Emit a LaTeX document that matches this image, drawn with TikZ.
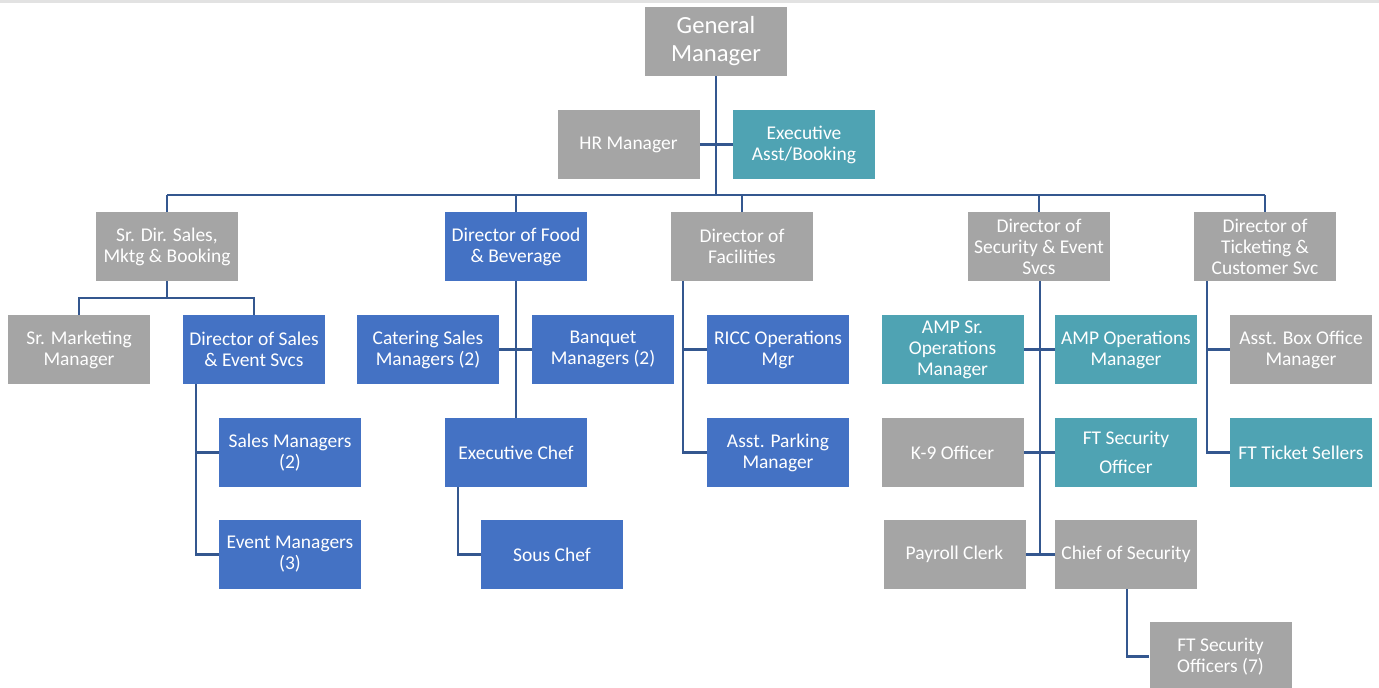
\documentclass[tikz,border=0pt]{standalone}
\usepackage{fontspec}
\setmainfont{Carlito}
\definecolor{boxgray}{HTML}{A5A5A5}
\definecolor{boxblue}{HTML}{4472C4}
\definecolor{boxteal}{HTML}{4FA3B3}
\definecolor{linkblue}{HTML}{34578F}
\definecolor{stripgray}{HTML}{E2E2E2}
\begin{document}
\begin{tikzpicture}[x=0.75pt,y=-0.75pt,
  orgbox/.style={minimum width=106.5pt,minimum height=51.75pt,inner sep=0pt,align=center,text=white,
    font=\fontsize{14.6pt}{15.75pt}\selectfont},
  gbox/.style={orgbox,fill=boxgray},
  bbox/.style={orgbox,fill=boxblue},
  tbox/.style={orgbox,fill=boxteal},
  link/.style={draw=linkblue,line width=2pt}]
\useasboundingbox (0,0) rectangle (1379,688);
\fill[stripgray] (0,0) rectangle (1379,3);
\begin{scope}
\clip (0,0) rectangle (1379,688);
% top
\node[gbox,font=\fontsize{18.5pt}{21pt}\selectfont] (gm) at (716,41.5) {General\\Manager};
\node[gbox] (hr) at (628.5,144.5) {HR Manager};
\node[tbox] (exec) at (804,144.5) {Executive\\Asst/Booking};
% level 2
\node[gbox] (srdir) at (167,246.5) {Sr. Dir. Sales,\\Mktg \& Booking};
\node[bbox] (fb) at (516,246.5) {Director of Food\\\& Beverage};
\node[gbox] (fac) at (742,246.5) {Director of\\Facilities};
\node[gbox] (sec) at (1039,246.5) {Director of\\Security \& Event\\Svcs};
\node[gbox] (tic) at (1265,246.5) {Director of\\Ticketing \&\\Customer Svc};
% level 3
\node[gbox] (srmkt) at (79,349.5) {Sr. Marketing\\Manager};
\node[bbox] (dirsales) at (254,349.5) {Director of Sales\\\& Event Svcs};
\node[bbox] (cater) at (428,349.5) {Catering Sales\\Managers (2)};
\node[bbox] (banq) at (603,349.5) {Banquet\\Managers (2)};
\node[bbox] (ricc) at (778,349.5) {RICC Operations\\Mgr};
\node[tbox] (amps) at (952.5,349.5) {AMP Sr.\\Operations\\Manager};
\node[tbox] (ampo) at (1126,349.5) {AMP Operations\\Manager};
\node[gbox] (boxo) at (1301,349.5) {Asst. Box Office\\Manager};
% level 4
\node[bbox] (salesm) at (290,452.5) {Sales Managers\\(2)};
\node[bbox] (chef) at (516,452.5) {Executive Chef};
\node[bbox] (park) at (778,452.5) {Asst. Parking\\Manager};
\node[gbox] (k9) at (952.5,452.5) {K-9 Officer};
\node[tbox,font=\fontsize{14.6pt}{22pt}\selectfont] (ftsec) at (1126,452.5) {FT Security\\Officer};
\node[tbox] (tix) at (1301,452.5) {FT Ticket Sellers};
% level 5
\node[bbox] (eventm) at (290,554.5) {Event Managers\\(3)};
\node[bbox] (sous) at (552,554.5) {Sous Chef};
\node[gbox] (payroll) at (954.5,554.5) {Payroll Clerk};
\node[gbox] (chief) at (1126,554.5) {Chief of Security};
% level 6
\node[gbox] (ft7) at (1220.5,656.5) {FT Security\\Officers (7)};
% connector coordinates
\coordinate (bar) at (716,195);
\coordinate (srbar) at (167,298);
\coordinate (dsx) at (196,0);
\coordinate (chx) at (458,0);
\coordinate (fax) at (683,0);
\coordinate (sex) at (1040,0);
\coordinate (cix) at (1127,0);
\coordinate (tix x) at (1207,0);
% connectors
\draw[link] (gm.south) -- (bar);
\draw[link] (hr.east) -- (exec.west);
\draw[link] (srdir.north |- bar) -- (tic.north |- bar);
\foreach \n in {srdir,fb,fac,sec,tic} \draw[link] (\n.north) -- (\n.north |- bar);
\draw[link] (srdir.south) -- (srbar);
\draw[link] (srmkt.north) |- (srbar) -| (dirsales.north);
\draw[link] (dirsales.south -| dsx) |- (eventm.west);
\draw[link] (salesm.west -| dsx) -- (salesm.west);
\draw[link] (fb.south) -- (chef.north);
\draw[link] (cater.east) -- (banq.west);
\draw[link] (chef.south -| chx) |- (sous.west);
\draw[link] (fac.south -| fax) |- (park.west);
\draw[link] (ricc.west -| fax) -- (ricc.west);
\draw[link] (sec.south -| sex) -- (chief.west -| sex);
\draw[link] (amps.east) -- (ampo.west);
\draw[link] (k9.east) -- (ftsec.west);
\draw[link] (payroll.east) -- (chief.west);
\draw[link] (chief.south -| cix) |- (ft7.west);
\draw[link] (tic.south -| tix x) |- (tix.west);
\draw[link] (boxo.west -| tix x) -- (boxo.west);
\end{scope}
\end{tikzpicture}
\end{document}
